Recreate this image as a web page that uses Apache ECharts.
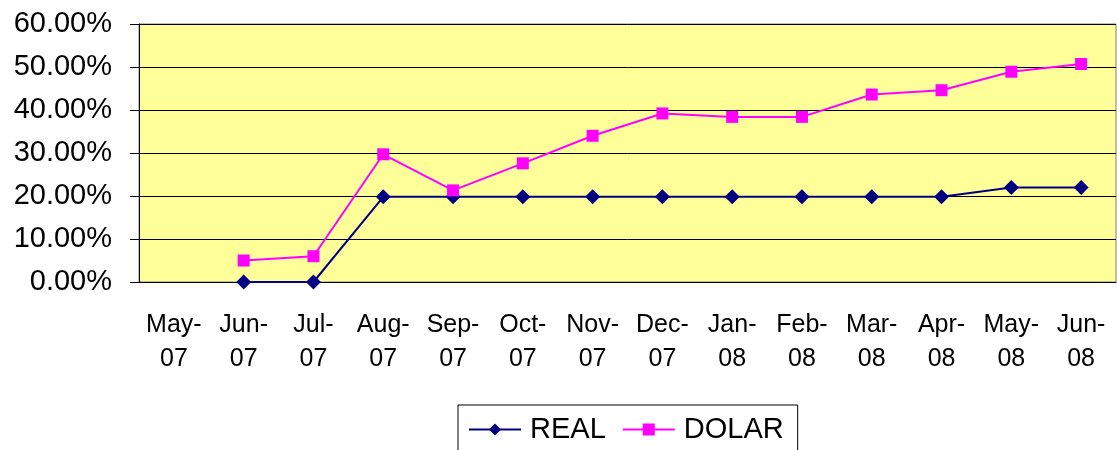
<!DOCTYPE html>
<html>
<head>
<meta charset="utf-8">
<script src="https://cdn.jsdelivr.net/npm/echarts@6/dist/echarts.min.js"></script>
<style>
  html, body { margin: 0; padding: 0; background: #fff; }
  #chart { width: 1117px; height: 450px; }
</style>
</head>
<body>
<div id="chart"></div>
<script>
// meses (rótulo em duas linhas como no Excel)
const months = ['May-\n07', 'Jun-\n07', 'Jul-\n07', 'Aug-\n07', 'Sep-\n07', 'Oct-\n07', 'Nov-\n07',
  'Dec-\n07', 'Jan-\n08', 'Feb-\n08', 'Mar-\n08', 'Apr-\n08', 'May-\n08', 'Jun-\n08']

// valores em %
const real = [null, 0, 0, 19.8, 19.8, 19.8, 19.8, 19.8, 19.8, 19.8, 19.8, 19.8, 22.0, 22.0]
const dolar = [null, 5.0, 6.0, 29.7, 21.3, 27.6, 34.0, 39.2, 38.4, 38.4, 43.6, 44.6, 48.9, 50.7]

const FONT = 'Arial, "Liberation Sans", sans-serif'

const chart = echarts.init(document.getElementById('chart'))

chart.setOption({
  animation: false,
  backgroundColor: '#fff',
  grid: {
    left: 139, right: 1, top: 24, bottom: 168,
    show: true,
    backgroundColor: '#FFFF99',
    borderColor: '#808080',
    borderWidth: 1,
  },
  legend: {
    left: 458, top: 405,
    padding: [10, 14, 10, 10],
    borderColor: '#000', borderWidth: 1,
    itemWidth: 52, itemHeight: 15, itemGap: 16,
    textStyle: { fontSize: 29, color: '#000', fontFamily: FONT, padding: [0, 0, 0, 4] },
    data: ['REAL', 'DOLAR'],
  },
  xAxis: {
    type: 'category',
    data: months,
    boundaryGap: true,
    axisLine: { lineStyle: { color: '#000', width: 1 } },
    axisTick: { length: 8, lineStyle: { color: '#000' } },
    axisLabel: { interval: 0, fontSize: 25, lineHeight: 34, color: '#000', fontFamily: FONT, margin: 26 },
  },
  yAxis: {
    type: 'value',
    min: 0, max: 60, interval: 10,
    axisLine: { show: true, lineStyle: { color: '#000', width: 1 } },
    axisTick: { show: true, length: 9, lineStyle: { color: '#000' } },
    splitLine: { lineStyle: { color: '#000', width: 1 } },
    axisLabel: {
      fontSize: 29, color: '#000', fontFamily: FONT, margin: 27,
      formatter: v => v.toFixed(2) + '%',
    },
  },
  series: [
    {
      name: 'REAL',
      type: 'line',
      data: real,
      symbol: 'diamond',
      symbolSize: [15, 15],
      itemStyle: { color: '#000080' },
      lineStyle: { color: '#000080', width: 2 },
    },
    {
      name: 'DOLAR',
      type: 'line',
      data: dolar,
      symbol: 'rect',
      symbolSize: 12,
      itemStyle: { color: '#FF00FF' },
      lineStyle: { color: '#FF00FF', width: 2 },
    },
  ],
})
</script>
</body>
</html>
